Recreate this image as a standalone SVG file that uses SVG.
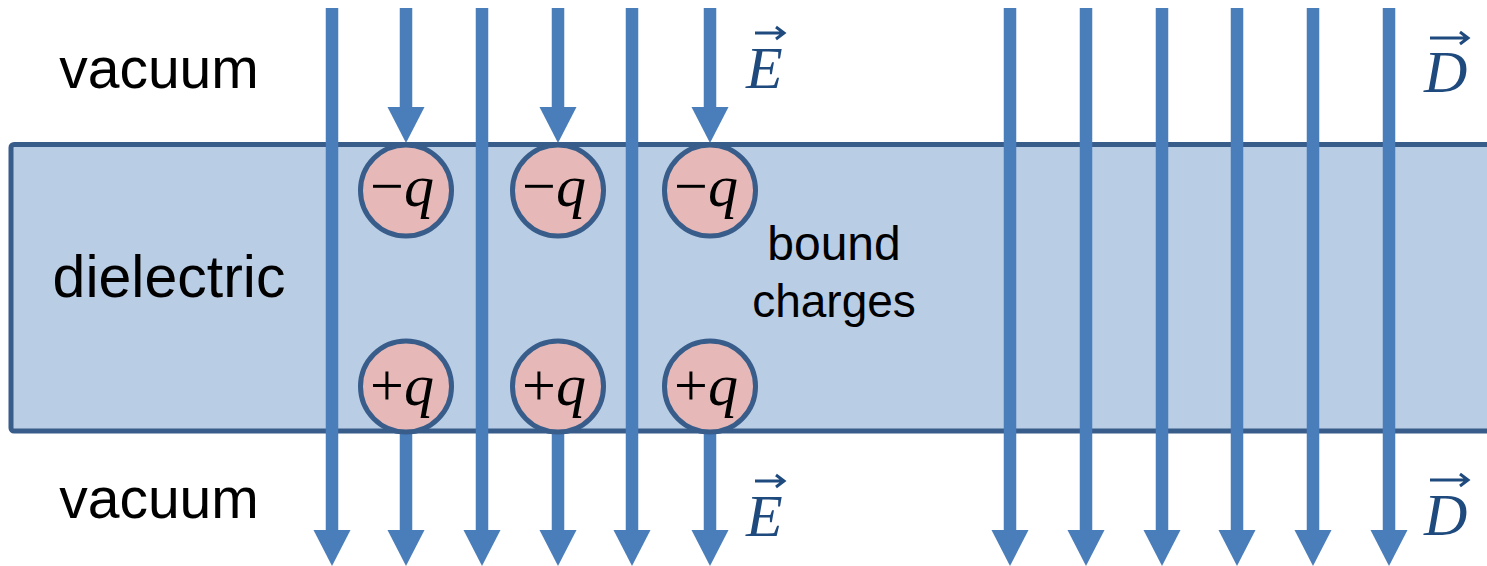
<svg xmlns="http://www.w3.org/2000/svg" width="1487" height="566" viewBox="0 0 1487 566">
<style>
.fl{stroke:#4a7ebb;stroke-width:12.5;fill:none}
.ah{fill:#4a7ebb}
.chg{fill:#e6b9b8;stroke:#385d8a;stroke-width:5}
.lbl{font-family:"Liberation Sans",Arial,sans-serif;fill:#000}
.ct{font-family:"Liberation Serif","Times New Roman",serif;font-size:60px;fill:#000}
.vec{font-family:"Liberation Serif","Times New Roman",serif;font-style:italic;font-size:60px;fill:#1f4a7e}
.va{stroke:#1f4a7e;stroke-width:3;fill:none}
</style>
<defs>
<polygon id="head" points="-18.5,0 18.5,0 0,36"/>
</defs>
<rect width="1487" height="566" fill="#fff"/>
<g id="dielectric-slab">
<rect x="11" y="144.5" width="1490" height="286.5" rx="3" fill="#b9cde5" stroke="#385d8a" stroke-width="5"/>
</g>
<g id="connectors">
<g id="field-lines-long">
<line class="fl" x1="332" y1="8" x2="332" y2="531"/><use href="#head" class="ah" x="332" y="530"/>
<line class="fl" x1="482" y1="8" x2="482" y2="531"/><use href="#head" class="ah" x="482" y="530"/>
<line class="fl" x1="632" y1="8" x2="632" y2="531"/><use href="#head" class="ah" x="632" y="530"/>
<line class="fl" x1="1010" y1="8" x2="1010" y2="531"/><use href="#head" class="ah" x="1010" y="530"/>
<line class="fl" x1="1086" y1="8" x2="1086" y2="531"/><use href="#head" class="ah" x="1086" y="530"/>
<line class="fl" x1="1162" y1="8" x2="1162" y2="531"/><use href="#head" class="ah" x="1162" y="530"/>
<line class="fl" x1="1237" y1="8" x2="1237" y2="531"/><use href="#head" class="ah" x="1237" y="530"/>
<line class="fl" x1="1313" y1="8" x2="1313" y2="531"/><use href="#head" class="ah" x="1313" y="530"/>
<line class="fl" x1="1389" y1="8" x2="1389" y2="531"/><use href="#head" class="ah" x="1389" y="530"/>
</g>
<g id="field-lines-short">
<line class="fl" x1="406" y1="8" x2="406" y2="108"/><use href="#head" class="ah" x="406" y="107"/>
<line class="fl" x1="558" y1="8" x2="558" y2="108"/><use href="#head" class="ah" x="558" y="107"/>
<line class="fl" x1="710" y1="8" x2="710" y2="108"/><use href="#head" class="ah" x="710" y="107"/>
<line class="fl" x1="406" y1="420" x2="406" y2="531"/><use href="#head" class="ah" x="406" y="530"/>
<line class="fl" x1="558" y1="420" x2="558" y2="531"/><use href="#head" class="ah" x="558" y="530"/>
<line class="fl" x1="710" y1="420" x2="710" y2="531"/><use href="#head" class="ah" x="710" y="530"/>
</g>
</g>
<g id="neg-charge-1"><circle class="chg" cx="406" cy="190.5" r="45.5"/><text class="ct" x="402" y="206" text-anchor="middle">−<tspan font-style="italic">q</tspan></text></g>
<g id="neg-charge-2"><circle class="chg" cx="558" cy="190.5" r="45.5"/><text class="ct" x="554" y="206" text-anchor="middle">−<tspan font-style="italic">q</tspan></text></g>
<g id="neg-charge-3"><circle class="chg" cx="710" cy="190.5" r="45.5"/><text class="ct" x="706" y="206" text-anchor="middle">−<tspan font-style="italic">q</tspan></text></g>
<g id="pos-charge-1"><circle class="chg" cx="406" cy="386.5" r="45.5"/><text class="ct" x="402" y="405" text-anchor="middle">+<tspan font-style="italic">q</tspan></text></g>
<g id="pos-charge-2"><circle class="chg" cx="558" cy="386.5" r="45.5"/><text class="ct" x="554" y="405" text-anchor="middle">+<tspan font-style="italic">q</tspan></text></g>
<g id="pos-charge-3"><circle class="chg" cx="710" cy="386.5" r="45.5"/><text class="ct" x="706" y="405" text-anchor="middle">+<tspan font-style="italic">q</tspan></text></g>
<g id="labels">
<text class="lbl" x="159" y="88" font-size="57" text-anchor="middle">vacuum</text>
<text class="lbl" x="159" y="518" font-size="57" text-anchor="middle">vacuum</text>
<text class="lbl" x="169" y="297" font-size="59" text-anchor="middle">dielectric</text>
<text class="lbl" x="834" y="260" font-size="48" text-anchor="middle">bound</text>
<text class="lbl" x="834" y="317" font-size="46" text-anchor="middle">charges</text>
</g>
<g id="vector-labels">
<text class="vec" x="746" y="88">E</text>
<path class="va" d="M755,33 H783 M776,27 L784,33 L776,39"/>
<text class="vec" x="746" y="536">E</text>
<path class="va" d="M755,481 H783 M776,475 L784,481 L776,487"/>
<text class="vec" x="1424" y="92">D</text>
<path class="va" d="M1430,38 H1467 M1460,32 L1468,38 L1460,44"/>
<text class="vec" x="1424" y="535">D</text>
<path class="va" d="M1430,480 H1467 M1460,474 L1468,480 L1460,486"/>
</g>
</svg>
